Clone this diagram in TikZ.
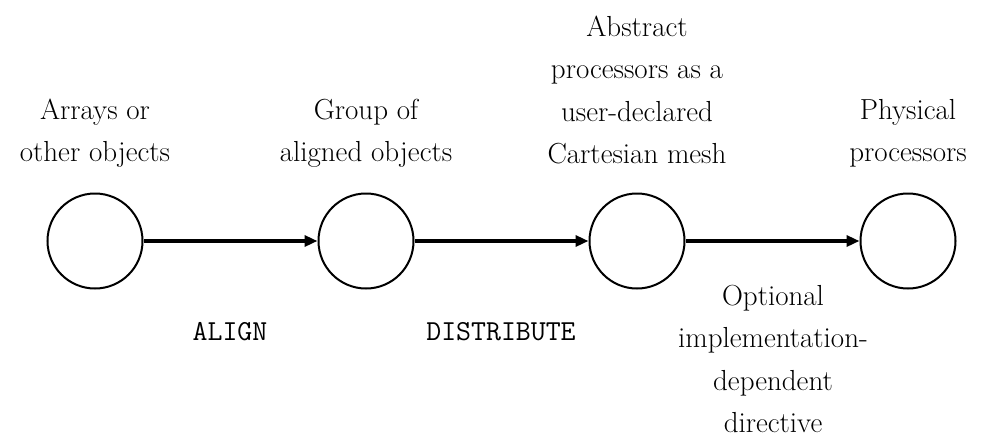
\documentclass[tikz,border=0pt]{standalone}
\usepackage{fontspec}
\usetikzlibrary{arrows.meta}
\begin{document}
\begin{tikzpicture}[x=1pt,y=-1pt,
  proc/.style={circle, draw, line width=2pt, minimum size=95pt, inner sep=0pt},
  lbl/.style={font=\fontsize{29}{42.5}\selectfont, align=center, inner sep=0pt, text depth=0pt, anchor=south},
  dirlbl/.style={font=\ttfamily\fontsize{29}{34}\selectfont, inner sep=0pt, anchor=base},
  conn/.style={line width=4pt, -{Triangle[length=13pt,width=11pt]}}]
\useasboundingbox (0,0) rectangle (982,437);
\node[proc] (c1) at (95,241) {};
\node[proc] (c2) at (366,241) {};
\node[proc] (c3) at (637,241) {};
\node[proc] (c4) at (908,241) {};
\draw[conn] (c1) -- (c2);
\draw[conn] (c2) -- (c3);
\draw[conn] (c3) -- (c4);
\node[lbl] (t1) at (95,162) {Arrays or\\other objects};
\node[lbl] (t2) at (366,162) {Group of\\aligned objects};
\node[lbl] (t3) at (637,164) {Abstract\\processors as a\\user-declared\\Cartesian mesh};
\node[lbl] (t4) at (908,162) {Physical\\processors};
\node[dirlbl] (d1) at (230,340) {ALIGN};
\node[dirlbl] (d2) at (501,340) {DISTRIBUTE};
\node[lbl] (d3) at (773,433) {Optional\\implementation-\\dependent\\directive};
\end{tikzpicture}
\end{document}
